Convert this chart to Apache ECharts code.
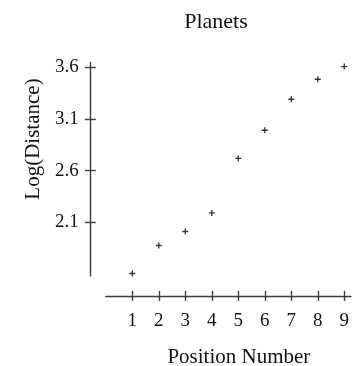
<!DOCTYPE html>
<html>
<head>
<meta charset="utf-8">
<style>
html,body{margin:0;padding:0;background:#fff;}
#chart{width:357px;height:366px;}
</style>
<script src="https://cdn.jsdelivr.net/npm/echarts@6/dist/echarts.min.js"></script>
</head>
<body>
<div id="chart"></div>
<script>
const positions = [1, 2, 3, 4, 5, 6, 7, 8, 9];
const logDistance = [1.603, 1.874, 2.010, 2.190, 2.717, 2.990, 3.290, 3.484, 3.607];
const xTicks = [1, 2, 3, 4, 5, 6, 7, 8, 9];
const yTicks = [2.1, 2.6, 3.1, 3.6];

const FONT = '"Liberation Serif", "Times New Roman", serif';
const lineColor = '#3a3a3a';
const cross = 'path://M-1,-0.22H1V0.22H-1Z M-0.22,-1H0.22V1H-0.22Z';

const xBase = {
  type: 'value', min: 0, max: 9.25, position: 'bottom', offset: 20,
  splitLine: { show: false },
  axisLine: { show: true, onZero: false, lineStyle: { color: lineColor, width: 1.4 } }
};
const yBase = {
  type: 'value', min: 1.58, max: 3.65, position: 'left', offset: 16,
  splitLine: { show: false },
  axisLine: { show: true, onZero: false, lineStyle: { color: lineColor, width: 1.4 } }
};

const chart = echarts.init(document.getElementById('chart'));
chart.setOption({
  animation: false,
  backgroundColor: '#fff',
  title: {
    text: 'Planets', left: 211, top: 6, textAlign: 'center',
    textStyle: { fontFamily: FONT, fontSize: 22, fontWeight: 'normal', color: '#111' }
  },
  grid: { left: 105.8, right: 6.1, top: 62.1, bottom: 90.1, containLabel: false, outerBoundsMode: 'none' },
  xAxis: [
    Object.assign({}, xBase, {
      name: 'Position Number', nameLocation: 'middle', nameGap: 51,
      nameTextStyle: { fontFamily: FONT, fontSize: 21, color: '#111', padding: [0, 0, 0, 21] },
      axisTick: { show: true, inside: false, length: 5, customValues: xTicks, lineStyle: { color: lineColor, width: 1.4 } },
      axisLabel: { show: true, customValues: xTicks, margin: 16, fontFamily: FONT, fontSize: 19, color: '#111' }
    }),
    Object.assign({}, xBase, {
      axisLine: { show: false, onZero: false },
      axisTick: { show: true, inside: true, length: 5, customValues: xTicks, lineStyle: { color: lineColor, width: 1.4 } },
      axisLabel: { show: false }
    })
  ],
  yAxis: [
    Object.assign({}, yBase, {
      name: 'Log(Distance)', nameLocation: 'middle', nameGap: 44, nameRotate: 90,
      nameTextStyle: { fontFamily: FONT, fontSize: 21, color: '#111', padding: [0, 0, 0, 60] },
      axisTick: { show: true, inside: false, length: 5, customValues: yTicks, lineStyle: { color: lineColor, width: 1.4 } },
      axisLabel: { show: true, customValues: yTicks, margin: 11, fontFamily: FONT, fontSize: 19, color: '#111',
        formatter: v => v.toFixed(1) }
    }),
    Object.assign({}, yBase, {
      axisLine: { show: false, onZero: false },
      axisTick: { show: true, inside: true, length: 6, customValues: yTicks, lineStyle: { color: lineColor, width: 1.4 } },
      axisLabel: { show: false }
    })
  ],
  series: [{
    type: 'scatter',
    xAxisIndex: 0, yAxisIndex: 0,
    data: positions.map((p, i) => [p, logDistance[i]]),
    symbol: cross, symbolSize: 6,
    itemStyle: { color: '#000' }
  }]
});
</script>
</body>
</html>
